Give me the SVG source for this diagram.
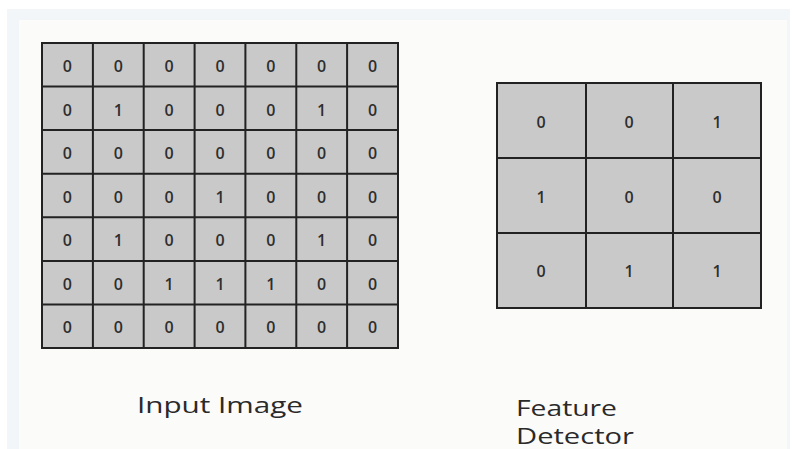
<svg xmlns="http://www.w3.org/2000/svg" width="792" height="449" viewBox="0 0 792 449">
<style>
.cell{fill:#c9c9c9;stroke:#222;stroke-width:2}
.d{font-family:"Open Sans","Liberation Sans",sans-serif;font-size:16px;font-weight:600;fill:#2e2e2e;text-anchor:middle;dominant-baseline:central}
.lbl{font-family:"Open Sans","Liberation Sans",sans-serif;font-size:21px;fill:#2a2a2a}
</style>
<rect x="0" y="0" width="792" height="449" fill="#ffffff"/>
<rect x="7" y="9" width="783" height="440" fill="#f2f6f8"/>
<rect x="19" y="20" width="768" height="429" fill="#fbfbfa"/>
<g id="input-image">
<rect class="cell" x="42" y="43" width="356" height="305"/>
<path d="M92.9 43V348M143.7 43V348M194.6 43V348M245.4 43V348M296.3 43V348M347.1 43V348M42 86.6H398M42 130.1H398M42 173.7H398M42 217.3H398M42 260.9H398M42 304.4H398" stroke="#222" stroke-width="2" fill="none"/>
<g>
<text class="d" x="67.4" y="66">0</text><text class="d" x="118.3" y="66">0</text><text class="d" x="169.1" y="66">0</text><text class="d" x="220" y="66">0</text><text class="d" x="270.9" y="66">0</text><text class="d" x="321.7" y="66">0</text><text class="d" x="372.6" y="66">0</text>
<text class="d" x="67.4" y="110">0</text><text class="d" x="118.3" y="110">1</text><text class="d" x="169.1" y="110">0</text><text class="d" x="220" y="110">0</text><text class="d" x="270.9" y="110">0</text><text class="d" x="321.7" y="110">1</text><text class="d" x="372.6" y="110">0</text>
<text class="d" x="67.4" y="153">0</text><text class="d" x="118.3" y="153">0</text><text class="d" x="169.1" y="153">0</text><text class="d" x="220" y="153">0</text><text class="d" x="270.9" y="153">0</text><text class="d" x="321.7" y="153">0</text><text class="d" x="372.6" y="153">0</text>
<text class="d" x="67.4" y="197">0</text><text class="d" x="118.3" y="197">0</text><text class="d" x="169.1" y="197">0</text><text class="d" x="220" y="197">1</text><text class="d" x="270.9" y="197">0</text><text class="d" x="321.7" y="197">0</text><text class="d" x="372.6" y="197">0</text>
<text class="d" x="67.4" y="240">0</text><text class="d" x="118.3" y="240">1</text><text class="d" x="169.1" y="240">0</text><text class="d" x="220" y="240">0</text><text class="d" x="270.9" y="240">0</text><text class="d" x="321.7" y="240">1</text><text class="d" x="372.6" y="240">0</text>
<text class="d" x="67.4" y="284">0</text><text class="d" x="118.3" y="284">0</text><text class="d" x="169.1" y="284">1</text><text class="d" x="220" y="284">1</text><text class="d" x="270.9" y="284">1</text><text class="d" x="321.7" y="284">0</text><text class="d" x="372.6" y="284">0</text>
<text class="d" x="67.4" y="327">0</text><text class="d" x="118.3" y="327">0</text><text class="d" x="169.1" y="327">0</text><text class="d" x="220" y="327">0</text><text class="d" x="270.9" y="327">0</text><text class="d" x="321.7" y="327">0</text><text class="d" x="372.6" y="327">0</text>
</g>
<text class="lbl" x="137" y="413" textLength="166" lengthAdjust="spacingAndGlyphs">Input Image</text>
</g>
<g id="feature-detector">
<rect class="cell" x="497" y="83" width="264" height="225"/>
<path d="M586 83V308M673 83V308M497 158H761M497 233H761" stroke="#222" stroke-width="2" fill="none"/>
<text class="d" x="541" y="122">0</text><text class="d" x="629" y="122">0</text><text class="d" x="717" y="122">1</text>
<text class="d" x="541" y="197">1</text><text class="d" x="629" y="197">0</text><text class="d" x="717" y="197">0</text>
<text class="d" x="541" y="271">0</text><text class="d" x="629" y="271">1</text><text class="d" x="717" y="271">1</text>
<text class="lbl" x="516" y="416" textLength="101" lengthAdjust="spacingAndGlyphs">Feature</text>
<text class="lbl" x="516" y="444" textLength="118" lengthAdjust="spacingAndGlyphs">Detector</text>
</g>
<g id="connectors"></g>
</svg>
